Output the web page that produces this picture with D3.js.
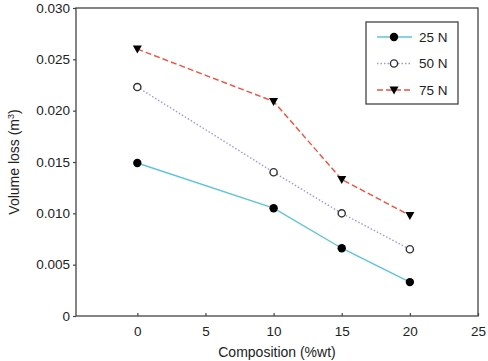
<!DOCTYPE html>
<html>
<head>
<meta charset="utf-8">
<script src="https://cdn.jsdelivr.net/npm/d3@7"></script>
<style>
  body { margin: 0; background: #fff; }
  text { font-family: "Liberation Sans", Arial, sans-serif; fill: #222; }
</style>
</head>
<body>
<div id="container"></div>
<script>
// data
const composition = [0, 10, 15, 20]
const load25 = [0.0149, 0.0105, 0.0066, 0.0033]
const load50 = [0.0223, 0.0140, 0.0100, 0.0065]
const load75 = [0.0260, 0.0209, 0.0133, 0.0098]
const seriesNames = ['25 N', '50 N', '75 N']
const xTicks = [0, 5, 10, 15, 20, 25]
const yTicks = [0, 0.005, 0.010, 0.015, 0.020, 0.025, 0.030]

const W = 488, H = 361
const margin = {top: 8, right: 10, bottom: 45, left: 76}
const width = W - margin.left - margin.right
const height = H - margin.top - margin.bottom

const svg = d3.select('#container').append('svg')
  .attr('width', W).attr('height', H)
const g = svg.append('g').attr('transform', `translate(${margin.left},${margin.top})`)

const x = d3.scaleLinear().domain([-4.5, 25]).range([0, width])
const y = d3.scaleLinear().domain([0, 0.030]).range([height, 0])

// frame
g.append('rect').attr('width', width).attr('height', height)
  .attr('fill', 'none').attr('stroke', '#444').attr('stroke-width', 1.3)

// x ticks point inward, y ticks outward (as in the figure)
const xAxis = g.append('g').attr('transform', `translate(0,${height})`)
  .call(d3.axisBottom(x).tickValues(xTicks).tickSizeInner(-3).tickSizeOuter(0).tickPadding(10).tickFormat(d3.format('d')))
const yAxis = g.append('g')
  .call(d3.axisLeft(y).tickValues(yTicks).tickSize(3).tickPadding(3)
    .tickFormat(d => d === 0 ? '0' : d3.format('.3f')(d)))
;[xAxis, yAxis].forEach(a => {
  a.select('.domain').remove()
  a.selectAll('line').attr('stroke', '#444').attr('stroke-width', 1.2)
  a.selectAll('text').style('font-size', '13.5px').attr('fill', '#222')
    .style('font-family', '"Liberation Sans", Arial, sans-serif')
})

const series = [
  {name: seriesNames[0], values: load25, color: '#5ec4dc', dash: null, marker: 'dot'},
  {name: seriesNames[1], values: load50, color: '#9a9ad8', dash: '1.5,2', marker: 'ring'},
  {name: seriesNames[2], values: load75, color: '#f0503c', dash: '6,3', marker: 'tri'}
]

const line = d3.line().x((d, i) => x(composition[i])).y(d => y(d))

function drawMarker(sel, type) {
  if (type === 'dot') {
    sel.append('circle').attr('r', 4.2).attr('fill', '#000')
  } else if (type === 'ring') {
    sel.append('circle').attr('r', 3.6).attr('fill', '#fff').attr('stroke', '#333').attr('stroke-width', 1.4)
  } else {
    sel.append('path').attr('d', 'M-4.5,-3.5L4.5,-3.5L0,4.5Z').attr('fill', '#000')
  }
}

series.forEach(s => {
  g.append('path').datum(s.values)
    .attr('fill', 'none').attr('stroke', s.color).attr('stroke-width', 1.4)
    .attr('stroke-dasharray', s.dash)
    .attr('d', line)
  s.values.forEach((v, i) => {
    const m = g.append('g').attr('transform', `translate(${x(composition[i])},${y(v)})`)
    drawMarker(m, s.marker)
  })
})

// legend
const lg = svg.append('g').attr('transform', 'translate(366,22)')
lg.append('rect').attr('width', 92).attr('height', 82)
  .attr('fill', '#fff').attr('stroke', '#444').attr('stroke-width', 1.3)
series.forEach((s, i) => {
  const row = lg.append('g').attr('transform', `translate(0,${15 + i * 26.5})`)
  row.append('line').attr('x1', 11).attr('x2', 46)
    .attr('stroke', s.color).attr('stroke-width', 1.4).attr('stroke-dasharray', s.dash)
  drawMarker(row.append('g').attr('transform', 'translate(28,0)'), s.marker)
  row.append('text').attr('x', 53).attr('dy', '0.36em').style('font-size', '13.5px').text(s.name)
})

// axis titles
svg.append('text').attr('text-anchor', 'middle')
  .attr('x', margin.left + width / 2).attr('y', 357)
  .style('font-size', '14px').text('Composition (%wt)')

const yt = svg.append('text').attr('text-anchor', 'middle')
  .attr('transform', `translate(19,${margin.top + height / 2}) rotate(-90)`)
  .style('font-size', '14px')
yt.append('tspan').text('Volume loss (m')
yt.append('tspan').attr('dy', -5).style('font-size', '9px').text('3')
yt.append('tspan').attr('dy', 5).text(')')
</script>
</body>
</html>
